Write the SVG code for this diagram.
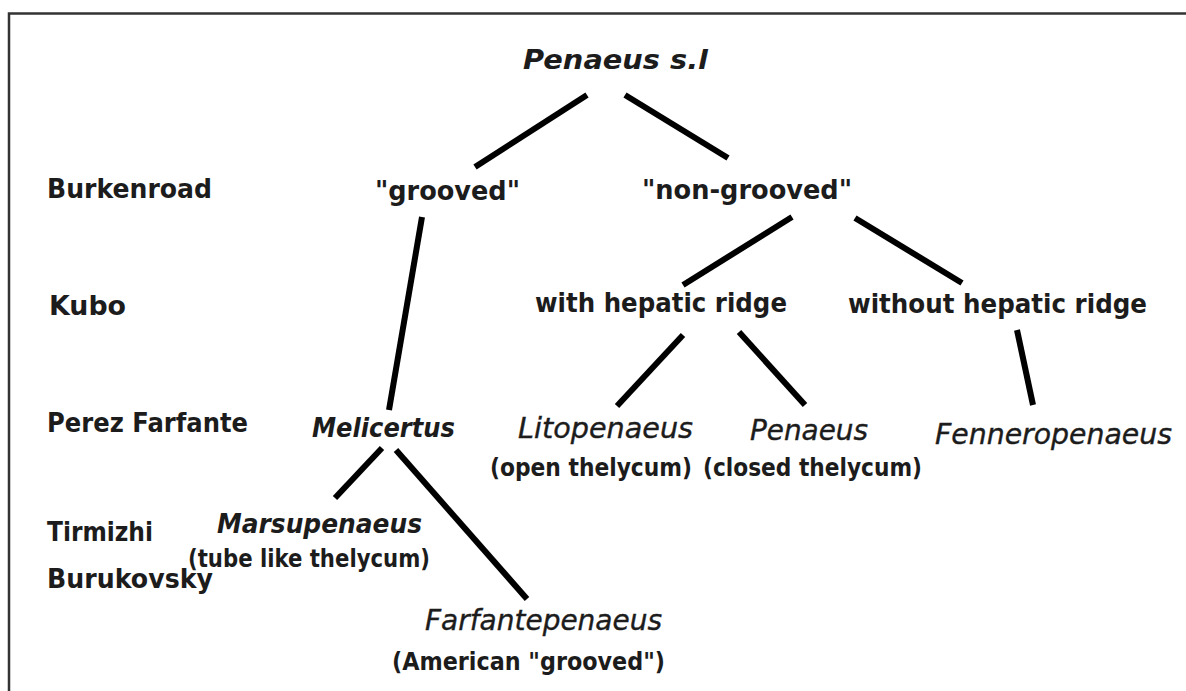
<svg xmlns="http://www.w3.org/2000/svg" width="1186" height="691" viewBox="0 0 1186 691">
<style>
.lbl{font-family:"DejaVu Sans","Liberation Sans",sans-serif;font-weight:bold;font-size:27px;fill:#1c1c1c}
.tax{font-family:"DejaVu Sans","Liberation Sans",sans-serif;font-style:italic;font-size:29px;fill:#1c1c1c;stroke:#1c1c1c;stroke-width:0.4}
.taxb{font-family:"DejaVu Sans","Liberation Sans",sans-serif;font-style:italic;font-weight:bold;font-size:27px;fill:#1c1c1c}
.par{font-family:"DejaVu Sans Condensed","DejaVu Sans","Liberation Sans",sans-serif;font-weight:bold;font-size:25px;fill:#1c1c1c}
.edge{stroke:#000;stroke-width:6;fill:none}
.frame{stroke:#333;stroke-width:2.5;fill:none}
</style>
<rect x="0" y="0" width="1186" height="691" fill="#fff"/>
<path class="frame" d="M9,691 V13.5 H1186"/>
<g id="ranks">
<text class="lbl" x="47" y="198" textLength="165" lengthAdjust="spacingAndGlyphs">Burkenroad</text>
<text class="lbl" x="49" y="315" textLength="77" lengthAdjust="spacingAndGlyphs">Kubo</text>
<text class="lbl" x="47" y="432" textLength="201" lengthAdjust="spacingAndGlyphs">Perez Farfante</text>
<text class="lbl" x="47" y="541" textLength="106" lengthAdjust="spacingAndGlyphs">Tirmizhi</text>
<text class="lbl" x="47" y="588" textLength="166" lengthAdjust="spacingAndGlyphs">Burukovsky</text>
</g>
<g id="n-root"><text class="taxb" x="523" y="69" font-size="31" textLength="185" lengthAdjust="spacingAndGlyphs">Penaeus s.l</text></g>
<g id="n-grooved"><text class="lbl" x="375" y="200" textLength="145" lengthAdjust="spacingAndGlyphs">"grooved"</text></g>
<g id="n-nongrooved"><text class="lbl" x="642" y="199" textLength="210" lengthAdjust="spacingAndGlyphs">"non-grooved"</text></g>
<g id="n-with"><text class="lbl" x="535" y="312" textLength="252" lengthAdjust="spacingAndGlyphs">with hepatic ridge</text></g>
<g id="n-without"><text class="lbl" x="848" y="313" textLength="299" lengthAdjust="spacingAndGlyphs">without hepatic ridge</text></g>
<g id="n-melicertus"><text class="taxb" x="312" y="437" textLength="143" lengthAdjust="spacingAndGlyphs">Melicertus</text></g>
<g id="n-litopenaeus">
<text class="tax" x="518" y="438" textLength="175" lengthAdjust="spacingAndGlyphs">Litopenaeus</text>
<text class="par" x="490" y="476" textLength="202" lengthAdjust="spacingAndGlyphs">(open thelycum)</text>
</g>
<g id="n-penaeus">
<text class="tax" x="750" y="440" textLength="118" lengthAdjust="spacingAndGlyphs">Penaeus</text>
<text class="par" x="703" y="476" textLength="219" lengthAdjust="spacingAndGlyphs">(closed thelycum)</text>
</g>
<g id="n-fenneropenaeus"><text class="tax" x="935" y="444" textLength="237" lengthAdjust="spacingAndGlyphs">Fenneropenaeus</text></g>
<g id="n-marsupenaeus">
<text class="taxb" x="217" y="533" textLength="205" lengthAdjust="spacingAndGlyphs">Marsupenaeus</text>
<text class="par" x="188" y="567" textLength="242" lengthAdjust="spacingAndGlyphs">(tube like thelycum)</text>
</g>
<g id="n-farfantepenaeus">
<text class="tax" x="425" y="630" textLength="237" lengthAdjust="spacingAndGlyphs">Farfantepenaeus</text>
<text class="par" x="392" y="670" textLength="273" lengthAdjust="spacingAndGlyphs">(American "grooved")</text>
</g>
<g id="connectors">
<line class="edge" x1="587" y1="95" x2="475" y2="167"/>
<line class="edge" x1="625" y1="95" x2="728" y2="158"/>
<line class="edge" x1="422" y1="217" x2="389" y2="410"/>
<line class="edge" x1="792" y1="217" x2="683" y2="285"/>
<line class="edge" x1="855" y1="218" x2="962" y2="283"/>
<line class="edge" x1="683" y1="335" x2="617" y2="406"/>
<line class="edge" x1="739" y1="332" x2="805" y2="405"/>
<line class="edge" x1="1017" y1="330" x2="1033" y2="405"/>
<line class="edge" x1="382" y1="448" x2="335" y2="498"/>
<line class="edge" x1="396" y1="450" x2="527" y2="599"/>
</g>
</svg>
